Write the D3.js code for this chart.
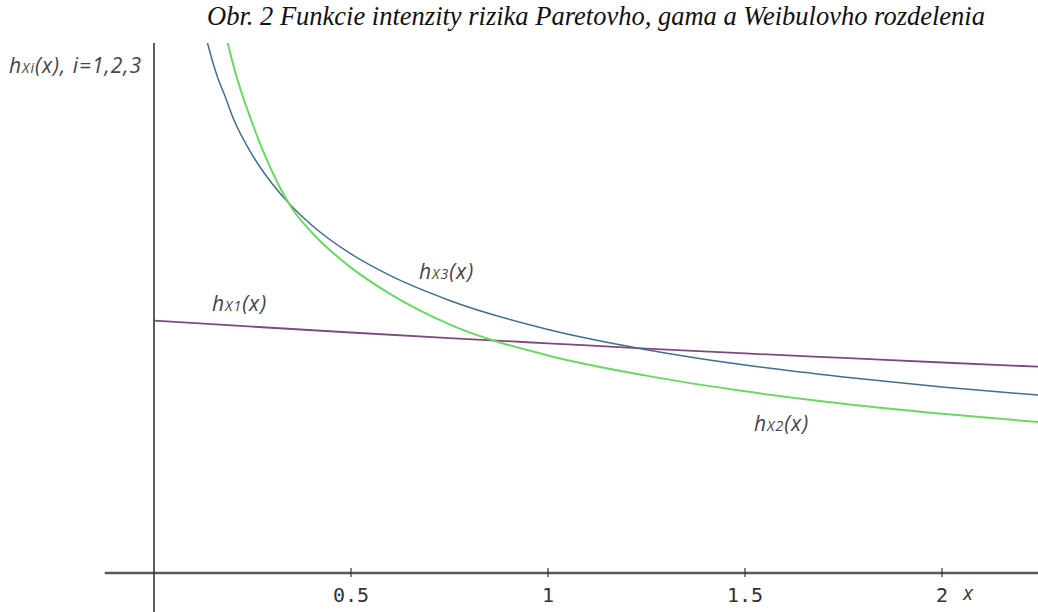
<!DOCTYPE html>
<head>
    <meta charset="utf-8">
    <title>Funkcie intenzity rizika</title>
    <script src="https://d3js.org/d3.v7.min.js"></script>
    <style>
      body { margin: 0; background: #fff; }
    </style>
</head>
<body>

  <div id="my_dataviz"></div>

  <script>

  // values
  var xPareto = [0, 0.25, 0.5, 0.75, 1, 1.25, 1.5, 1.75, 2, 2.25];
  var hPareto = [1.000, 0.976, 0.953, 0.931, 0.910, 0.889, 0.870, 0.852, 0.834, 0.817];

  var xGrid = [0.12, 0.14, 0.16, 0.18, 0.2, 0.25, 0.3, 0.35, 0.4, 0.5, 0.6, 0.75, 1, 1.25, 1.5, 1.75, 2, 2.25];
  var hGamma = [2.80, 2.55, 2.32, 2.15, 2.02, 1.78, 1.59, 1.445, 1.35, 1.21, 1.105, 0.985, 0.862, 0.782, 0.720, 0.671, 0.631, 0.597];
  var hWeibull = [2.20, 2.075, 1.97, 1.89, 1.806, 1.655, 1.542, 1.452, 1.379, 1.264, 1.178, 1.080, 0.965, 0.885, 0.824, 0.777, 0.737, 0.704];

  var xTicks = [0.5, 1, 1.5, 2];
  var xTickLabels = ["0.5", "1", "1.5", "2"];

  var width = 1038, height = 612;

  var svg = d3.select("#my_dataviz")
    .append("svg")
      .attr("width", width)
      .attr("height", height);

  // scales
  var x = d3.scaleLinear().domain([0, 2]).range([154, 942]);
  var y = d3.scaleLinear().domain([0, 2.1]).range([573, 43]);

  // title
  svg.append("text")
    .attr("x", 207)
    .attr("y", 25)
    .style("font-family", "Liberation Serif")
    .style("font-style", "italic")
    .style("font-size", "26.5px")
    .style("fill", "#111")
    .text("Obr. 2 Funkcie intenzity rizika Paretovho, gama a Weibulovho rozdelenia");

  // clip for the curves
  svg.append("clipPath").attr("id", "plotclip")
    .append("rect")
      .attr("x", x(0)).attr("y", y(2.1))
      .attr("width", width - x(0)).attr("height", y(0) - y(2.1));

  // X axis
  svg.append("line")
    .attr("x1", x(-0.125)).attr("x2", width)
    .attr("y1", y(0)).attr("y2", y(0))
    .attr("stroke", "#5a5a5a")
    .attr("stroke-width", 2.5);

  svg.selectAll(".tick")
    .data(xTicks)
    .enter()
    .append("line")
      .attr("x1", function (d) { return x(d); })
      .attr("x2", function (d) { return x(d); })
      .attr("y1", y(0) - 5)
      .attr("y2", y(0) + 4)
      .attr("stroke", "#333")
      .attr("stroke-width", 1.2);

  svg.selectAll(".ticklabel")
    .data(xTicks)
    .enter()
    .append("text")
      .attr("x", function (d) { return x(d); })
      .attr("y", 602)
      .attr("text-anchor", "middle")
      .style("font-family", "'DejaVu Sans Mono', monospace")
      .style("font-size", "20px")
      .style("fill", "#333")
      .text(function (d, i) { return xTickLabels[i]; });

  svg.append("text")
    .attr("x", 968)
    .attr("y", 600)
    .attr("text-anchor", "middle")
    .style("font-family", "'Open Sans', sans-serif")
    .style("font-style", "italic")
    .style("font-size", "20px")
    .style("fill", "#333")
    .text("x");

  // Y axis
  svg.append("line")
    .attr("x1", x(0)).attr("x2", x(0))
    .attr("y1", y(2.1)).attr("y2", height)
    .attr("stroke", "#333")
    .attr("stroke-width", 1.6);

  // y axis label
  var ylab = svg.append("text")
    .attr("x", 9)
    .attr("y", 73)
    .style("font-family", "'Open Sans', sans-serif")
    .style("font-style", "italic")
    .style("font-size", "21px")
    .style("letter-spacing", "1px")
    .style("fill", "#444");
  ylab.append("tspan").text("h");
  ylab.append("tspan").style("font-size", "14px").text("Xi");
  ylab.append("tspan").text("(x), i=1,2,3");

  // curves
  var line = d3.line()
    .x(function (d) { return x(d[0]); })
    .y(function (d) { return y(d[1]); })
    .curve(d3.curveMonotoneX);

  var curves = [
    { xs: xPareto, ys: hPareto, color: "#7d4a7e", w: 1.8 },
    { xs: xGrid, ys: hWeibull, color: "#3f6f8c", w: 1.5 },
    { xs: xGrid, ys: hGamma, color: "#6bd863", w: 2 }
  ];

  svg.append("g")
    .attr("clip-path", "url(#plotclip)")
    .selectAll("path")
    .data(curves)
    .enter()
    .append("path")
      .attr("d", function (c) { return line(c.xs.map(function (v, i) { return [v, c.ys[i]]; })); })
      .attr("fill", "none")
      .attr("stroke", function (c) { return c.color; })
      .attr("stroke-width", function (c) { return c.w; });

  // curve labels
  var labels = [
    { x: 212, y: 311, sub: "X1" },
    { x: 419, y: 279, sub: "X3" },
    { x: 754, y: 431, sub: "X2" }
  ];

  labels.forEach(function (l) {
    var t = svg.append("text")
      .attr("x", l.x)
      .attr("y", l.y)
      .style("font-family", "'Open Sans', sans-serif")
      .style("font-style", "italic")
      .style("font-size", "21px")
      .style("letter-spacing", "1px")
      .style("fill", "#444");
    t.append("tspan").text("h");
    t.append("tspan").style("font-size", "14px").text(l.sub);
    t.append("tspan").text("(x)");
  });

  </script>
</body>
